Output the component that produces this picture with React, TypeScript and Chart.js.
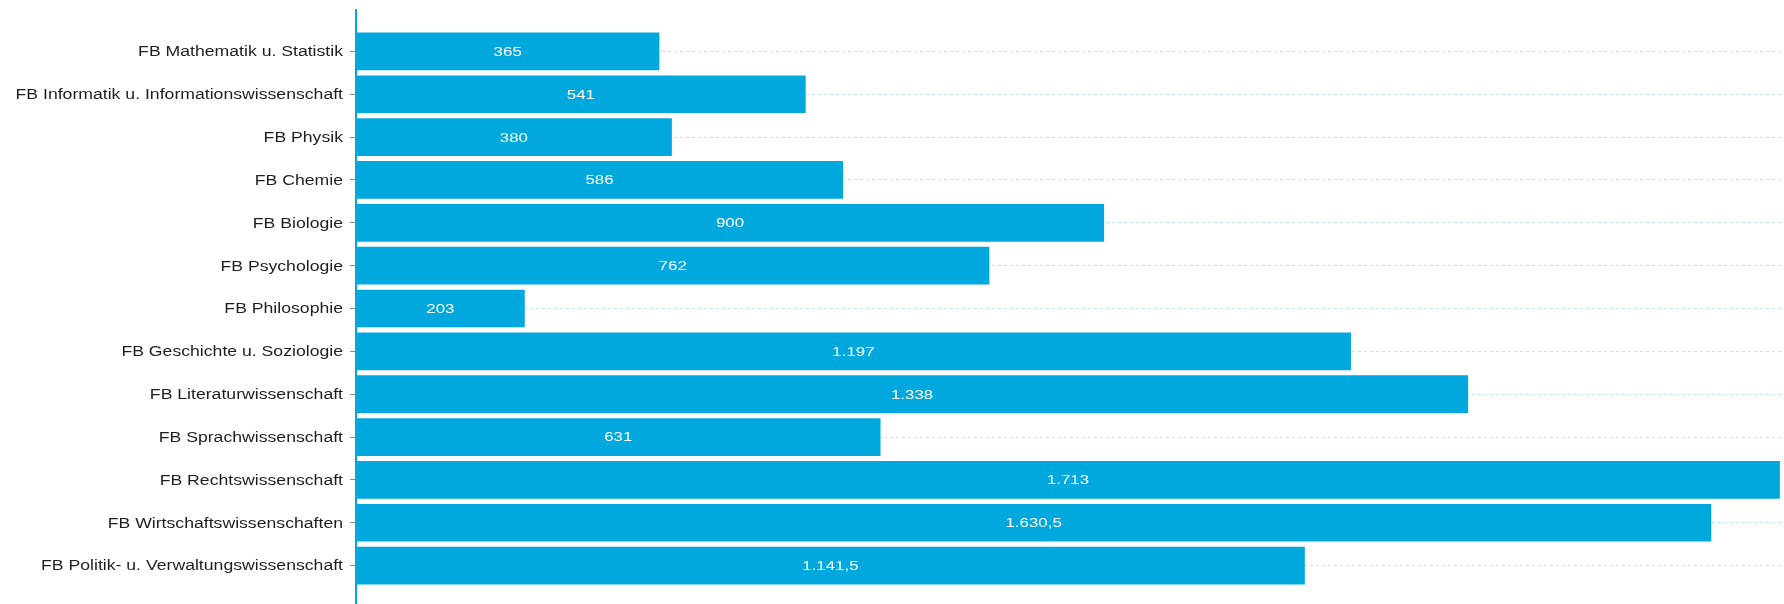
import React, { useEffect, useRef } from "react";
import { Chart, registerables } from "chart.js";

Chart.register(...registerables);

const categories = [
  "FB Mathematik u. Statistik",
  "FB Informatik u. Informationswissenschaft",
  "FB Physik",
  "FB Chemie",
  "FB Biologie",
  "FB Psychologie",
  "FB Philosophie",
  "FB Geschichte u. Soziologie",
  "FB Literaturwissenschaft",
  "FB Sprachwissenschaft",
  "FB Rechtswissenschaft",
  "FB Wirtschaftswissenschaften",
  "FB Politik- u. Verwaltungswissenschaft",
];

const values = [365, 541, 380, 586, 900, 762, 203, 1197, 1338, 631, 1713, 1630.5, 1141.5];

const xMax = 1718;

const BAR_COLOR = "#00a8de";
const FONT = "'Liberation Sans', Arial, sans-serif";

function formatDe(v: number): string {
  const neg = v < 0;
  const abs = Math.abs(v);
  const intPart = Math.floor(abs);
  const frac = Math.round((abs - intPart) * 10);
  const intStr = String(intPart).replace(/\B(?=(\d{3})+(?!\d))/g, ".");
  return (neg ? "-" : "") + intStr + (frac ? "," + frac : "");
}

// draws text horizontally stretched (the reference's glyphs are wide)
function drawStretched(ctx: CanvasRenderingContext2D, text: string, x: number, y: number, sx: number, align: CanvasTextAlign) {
  ctx.save();
  ctx.translate(x, y);
  ctx.scale(sx, 1);
  ctx.textAlign = align;
  ctx.fillText(text, 0, 0);
  ctx.restore();
}

const valueLabelPlugin = {
  id: "valueLabels",
  afterDatasetsDraw(chart: any) {
    const ctx = chart.ctx;
    const meta = chart.getDatasetMeta(0);
    ctx.save();
    ctx.fillStyle = "#ffffff";
    ctx.font = `12.5px ${FONT}`;
    ctx.textBaseline = "middle";
    meta.data.forEach((bar: any, i: number) => {
      const v = chart.data.datasets[0].data[i] as number;
      const cx = (bar.x + bar.base) / 2;
      drawStretched(ctx, formatDe(v), cx, bar.y + 1, 1.35, "center");
    });
    ctx.restore();
  },
};

const categoryLabelPlugin = {
  id: "categoryLabels",
  afterDraw(chart: any) {
    const ctx = chart.ctx;
    const y = chart.scales.y;
    const right = chart.chartArea.left - 13;
    ctx.save();
    ctx.fillStyle = "#1e1e1e";
    ctx.font = `14px ${FONT}`;
    ctx.textBaseline = "middle";
    (chart.data.labels as string[]).forEach((label, i) => {
      drawStretched(ctx, label, right, y.getPixelForValue(i) + 1, 1.26, "right");
    });
    ctx.restore();
  },
};

const axisLinePlugin = {
  id: "axisLine",
  afterDatasetsDraw(chart: any) {
    const ctx = chart.ctx;
    const x = chart.chartArea.left;
    ctx.save();
    ctx.strokeStyle = BAR_COLOR;
    ctx.lineWidth = 2;
    ctx.beginPath();
    ctx.moveTo(x, 9);
    ctx.lineTo(x, chart.height);
    ctx.stroke();
    ctx.restore();
  },
};

export default function App() {
  const ref = useRef<HTMLCanvasElement | null>(null);

  useEffect(() => {
    if (!ref.current) return;
    const chart = new Chart(ref.current, {
      type: "bar",
      data: {
        labels: categories,
        datasets: [
          {
            data: values,
            backgroundColor: BAR_COLOR,
            borderWidth: 0,
            categoryPercentage: 1,
            barPercentage: 0.88,
          },
        ],
      },
      options: {
        indexAxis: "y",
        responsive: false,
        animation: false,
        layout: { padding: { left: 0, top: 30, bottom: 17, right: 0 } },
        plugins: {
          legend: { display: false },
          tooltip: { enabled: false },
        },
        scales: {
          x: {
            display: false,
            min: 0,
            max: xMax,
          },
          y: {
            afterFit: (scale: any) => {
              scale.width = 356;
            },
            grid: {
              offset: false,
              color: "#bfe2ee",
              lineWidth: 1,
              drawTicks: true,
              tickLength: 6,
              tickColor: "#888888",
              tickBorderDash: [],
            },
            border: { display: false, dash: [3, 3] },
            ticks: {
              display: false,
            },
          },
        },
      },
      plugins: [valueLabelPlugin, categoryLabelPlugin, axisLinePlugin],
    });
    return () => chart.destroy();
  }, []);

  return (
    <div style={{ position: "fixed", left: 0, top: 0, width: 1784, height: 604, background: "#fff" }}>
      <canvas ref={ref} width={1784} height={604} style={{ display: "block" }} />
    </div>
  );
}
